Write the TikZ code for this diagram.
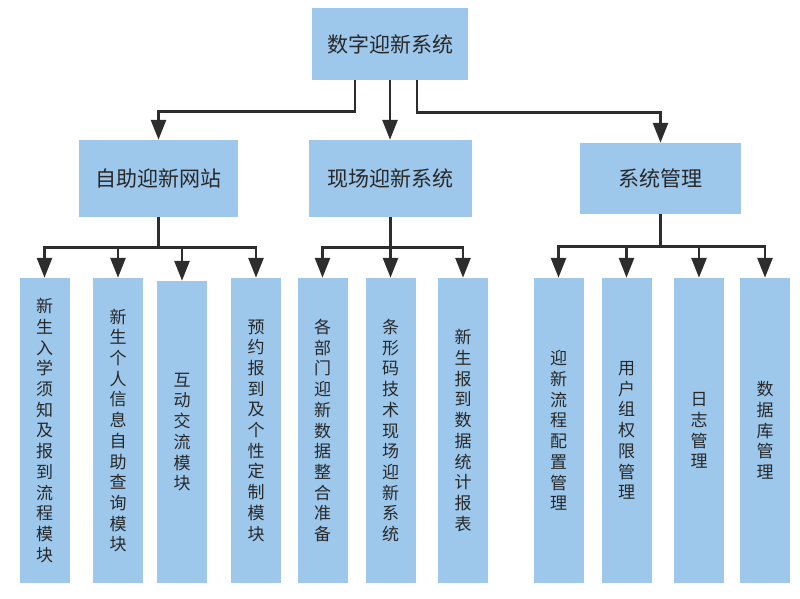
\documentclass[tikz,border=0pt]{standalone}
\usepackage{fontspec}
\setmainfont{Noto Sans CJK SC}
\usetikzlibrary{arrows.meta}
\definecolor{boxblue}{RGB}{157,200,236}
\definecolor{linegray}{RGB}{45,45,45}
\definecolor{txtgray}{RGB}{40,40,40}
\tikzset{
  bigbox/.style={fill=boxblue, inner sep=0pt, text=txtgray, font=\fontsize{21}{25}\selectfont},
  leafbox/.style={fill=boxblue, inner sep=0pt, minimum width=50pt, minimum height=305pt,
     text=txtgray, align=center, font=\fontsize{17}{20.7}\selectfont},
  arr/.style={draw=linegray, line width=2.8pt, -{Triangle[length=20pt 0 0,width=15pt 0 0]}},
}
\begin{document}
\begin{tikzpicture}[x=1pt,y=-1pt]
\useasboundingbox (0,0) rectangle (800,599);
\node[bigbox, minimum width=156pt, minimum height=72pt] (top) at (390,44) {数字迎新系统};
\node[bigbox, minimum width=159pt, minimum height=77pt] (A) at (158.5,178.5) {自助迎新网站};
\node[bigbox, minimum width=163pt, minimum height=77pt] (B) at (390.5,178.5) {现场迎新系统};
\node[bigbox, minimum width=161pt, minimum height=71pt] (C) at (660.5,178.5) {系统管理};

\node[leafbox] (L1) at (44.5,430.5) {新\\生\\入\\学\\须\\知\\及\\报\\到\\流\\程\\模\\块};
\node[leafbox] (L2) at (118,430.5) {新\\生\\个\\人\\信\\息\\自\\助\\查\\询\\模\\块};
\node[leafbox, minimum height=302pt] (L3) at (182,432) {互\\动\\交\\流\\模\\块};
\node[leafbox] (L4) at (256,430.5) {预\\约\\报\\到\\及\\个\\性\\定\\制\\模\\块};
\node[leafbox] (L5) at (322.5,430.5) {各\\部\\门\\迎\\新\\数\\据\\整\\合\\准\\备};
\node[leafbox] (L6) at (390.5,430.5) {条\\形\\码\\技\\术\\现\\场\\迎\\新\\系\\统};
\node[leafbox] (L7) at (463,430.5) {新\\生\\报\\到\\数\\据\\统\\计\\报\\表};
\node[leafbox] (L8) at (558.5,430.5) {迎\\新\\流\\程\\配\\置\\管\\理};
\node[leafbox] (L9) at (626.5,430.5) {用\\户\\组\\权\\限\\管\\理};
\node[leafbox] (L10) at (699,430.5) {日\\志\\管\\理};
\node[leafbox] (L11) at (765,430.5) {数\\据\\库\\管\\理};

% level 1 -> level 2
\draw[arr] ([xshift=-35pt]top.south) -- ++(0,31) -| (A.north);
\draw[arr] (top.south) -- (top.south |- B.north);
\draw[arr] ([xshift=27pt]top.south) -- ++(0,32) -| (C.north);

% level 2 -> leaves
\foreach \l in {L1,L2,L3,L4}{\draw[arr] (A.south) -- ++(0,30) -| (\l.north);}
\foreach \l in {L5,L6,L7}{\draw[arr] (B.south) -- ++(0,30) -| (\l.north);}
\foreach \l in {L8,L9,L10,L11}{\draw[arr] (C.south) -- ++(0,32) -| (\l.north);}
\end{tikzpicture}
\end{document}
